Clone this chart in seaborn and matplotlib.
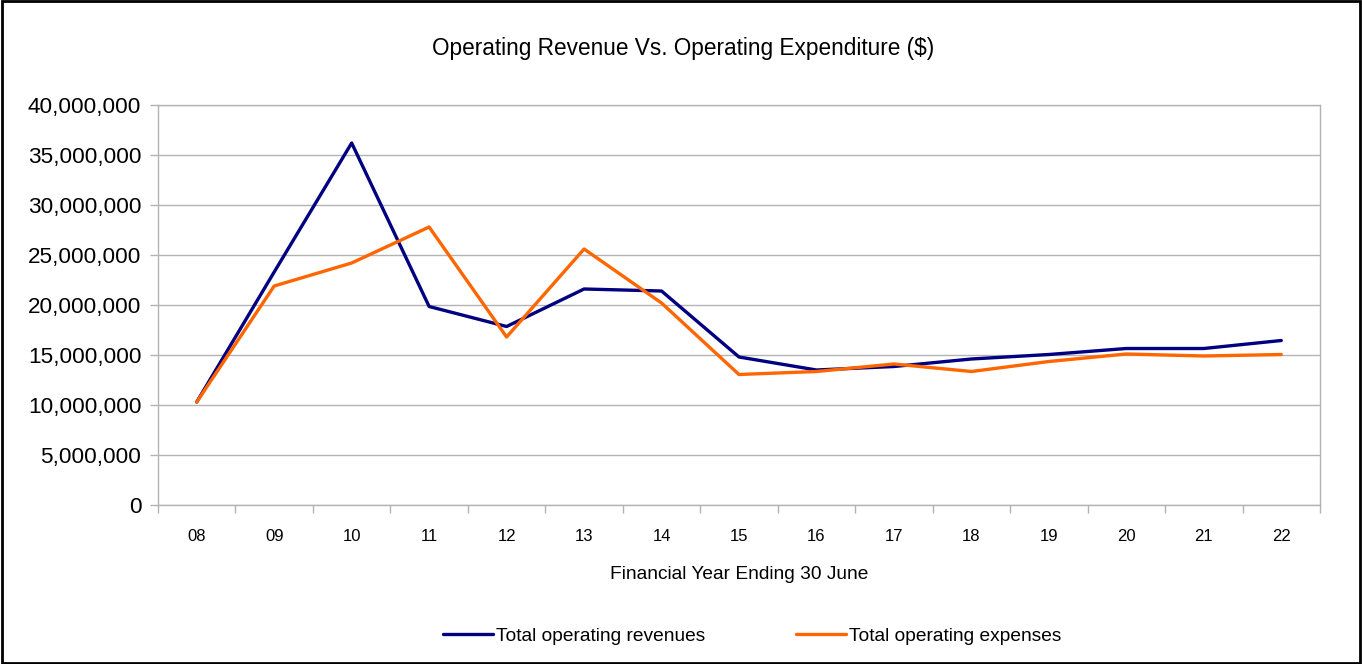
import matplotlib
matplotlib.use("Agg")
import matplotlib.pyplot as plt
import matplotlib.ticker as mticker
from matplotlib.patches import Rectangle
import seaborn as sns
import pandas as pd

years = ["08", "09", "10", "11", "12", "13", "14", "15", "16", "17", "18", "19", "20", "21", "22"]
revenues = [10.3, 23.3, 36.2, 19.85, 17.85, 21.6, 21.4, 14.8, 13.5, 13.85, 14.6, 15.05, 15.65, 15.65, 16.45]
expenses = [10.3, 21.9, 24.2, 27.8, 16.8, 25.6, 20.2, 13.05, 13.35, 14.1, 13.35, 14.35, 15.1, 14.9, 15.05]
revenues = [v * 1e6 for v in revenues]
expenses = [v * 1e6 for v in expenses]
series_names = ["Total operating revenues", "Total operating expenses"]

df = pd.DataFrame({
    "Year": years * 2,
    "Value": revenues + expenses,
    "Series": [series_names[0]] * len(years) + [series_names[1]] * len(years),
})

sns.set_theme(style="white")
plt.rcParams['font.family'] = ['Liberation Sans', 'DejaVu Sans']
plt.rcParams['text.color'] = 'black'
plt.rcParams['axes.labelcolor'] = 'black'
plt.rcParams['xtick.color'] = 'black'
plt.rcParams['ytick.color'] = 'black'

fig = plt.figure(figsize=(13.62, 6.64), dpi=100)
ax = fig.add_axes([158 / 1362, 1 - 505 / 664, (1320 - 158) / 1362, 400 / 664])

sns.lineplot(data=df, x="Year", y="Value", hue="Series",
             palette={series_names[0]: "#000080", series_names[1]: "#ff6600"},
             linewidth=2.4, ax=ax, sort=False)

ax.set_xlim(-0.5, len(years) - 0.5)
ax.set_ylim(0, 40e6)
ax.yaxis.set_major_locator(mticker.MultipleLocator(5e6))
ax.yaxis.set_major_formatter(mticker.FuncFormatter(lambda v, p: f"{int(v):,}"))
ax.grid(axis="y", color="#b3b3b3", linewidth=1)
ax.set_axisbelow(True)
for s in ax.spines.values():
    s.set_color("#b3b3b3")
    s.set_linewidth(1)

ax.set_xticks(range(len(years)))
ax.set_xticklabels(years)
ax.xaxis.set_minor_locator(mticker.FixedLocator([i - 0.5 for i in range(len(years) + 1)]))
ax.tick_params(axis="x", which="major", length=0, labelsize=12, pad=17, labelcolor="black")
ax.tick_params(axis="x", which="minor", bottom=True, length=6, color="#b3b3b3", width=1)
ax.tick_params(axis="y", which="major", left=True, length=6, color="#b3b3b3", width=1,
               labelsize=16.2, pad=6, labelcolor="black")

ax.set_xlabel("Financial Year Ending 30 June", fontsize=13.8, labelpad=16, color="black")
ax.set_ylabel("")
fig.text(683 / 1362, 1 - 48 / 664, "Operating Revenue Vs. Operating Expenditure ($)",
         ha="center", va="center", fontsize=16.3, color="black")

ax.legend(loc="center", bbox_to_anchor=((752 - 158) / 1162, (505 - 636) / 400),
          ncol=2, frameon=False, fontsize=13.8, handlelength=2.6, handletextpad=0.15,
          columnspacing=4.75, bbox_transform=ax.transAxes)

fig.patches.append(Rectangle((0.0015, 0.002), 0.997, 0.996, transform=fig.transFigure,
                             fill=False, edgecolor="black", linewidth=2))

fig.savefig("out.png", dpi=100)
